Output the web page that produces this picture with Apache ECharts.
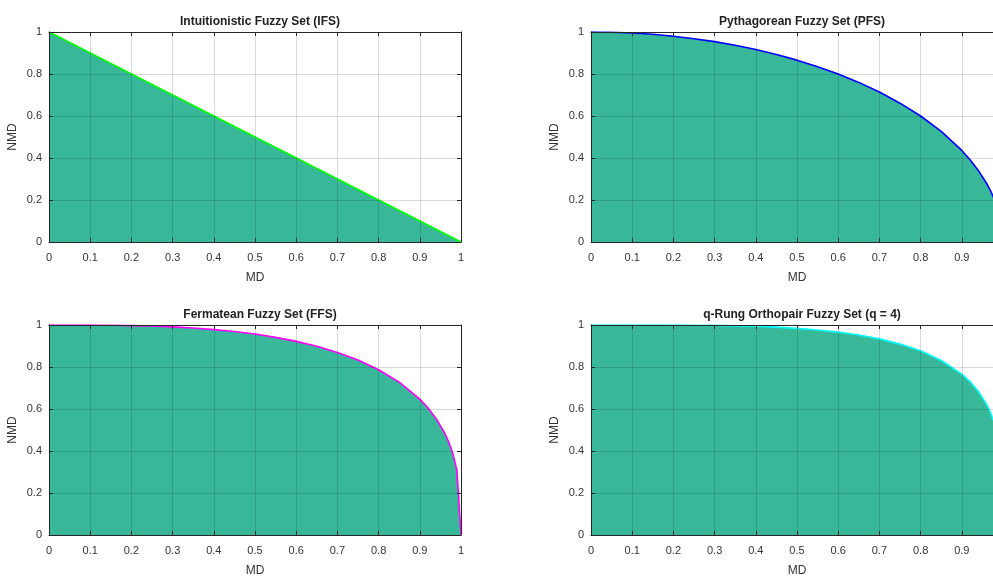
<!DOCTYPE html>
<html>
<head>
<meta charset="utf-8">
<script src="https://cdn.jsdelivr.net/npm/echarts@6/dist/echarts.min.js"></script>
<style>
  html, body { margin: 0; padding: 0; background: #fff; }
  #main { width: 993px; height: 576px; }
</style>
</head>
<body>
<div id="main"></div>
<script>
// membership degree samples (x) and the non-membership boundary
var md = [0, 0.05, 0.1, 0.15, 0.2, 0.25, 0.3, 0.35, 0.4, 0.45, 0.5, 0.55, 0.6, 0.65, 0.7, 0.75, 0.8, 0.85, 0.9, 0.92, 0.94, 0.96, 0.97, 0.98, 0.99, 1];
var ifsMd = [0, 1];
var ifsNmd = [1, 0];
var pfsNmd = [1, 0.999, 0.995, 0.989, 0.980, 0.968, 0.954, 0.937, 0.917, 0.893, 0.866, 0.835, 0.800, 0.760, 0.714, 0.661, 0.600, 0.527, 0.436, 0.392, 0.341, 0.280, 0.243, 0.199, 0.141, 0];
var ffsNmd = [1, 1, 0.9997, 0.9989, 0.997, 0.995, 0.991, 0.986, 0.978, 0.969, 0.957, 0.941, 0.922, 0.899, 0.869, 0.833, 0.787, 0.728, 0.647, 0.605, 0.553, 0.487, 0.444, 0.389, 0.310, 0];
var q4Nmd = [1, 1, 1, 0.9999, 0.9996, 0.999, 0.998, 0.996, 0.994, 0.990, 0.984, 0.976, 0.966, 0.952, 0.934, 0.909, 0.877, 0.831, 0.766, 0.730, 0.684, 0.623, 0.582, 0.528, 0.446, 0];

var titles = ['Intuitionistic Fuzzy Set (IFS)', 'Pythagorean Fuzzy Set (PFS)', 'Fermatean Fuzzy Set (FFS)', 'q-Rung Orthopair Fuzzy Set (q = 4)'];
var lineColors = ['#00ff00', '#0000ff', '#ff00ff', '#00ffff'];
var fillColor = '#38b899';
var font = 'Liberation Sans, Arial, sans-serif';

// right column runs past the page edge, as in the source image
var grids = [
    { left: 49, top: 32, width: 412, height: 210, outerBoundsMode: 'none' },
    { left: 591, top: 32, width: 412, height: 210, outerBoundsMode: 'none' },
    { left: 49, top: 325, width: 412, height: 210, outerBoundsMode: 'none' },
    { left: 591, top: 325, width: 412, height: 210, outerBoundsMode: 'none' }
];

function pairs(xs, ys) {
    var out = [];
    for (var i = 0; i < xs.length; i++) {
        out.push([xs[i], ys[i]]);
    }
    return out;
}

var seriesData = [
    pairs(ifsMd, ifsNmd),
    pairs(md, pfsNmd),
    pairs(md, ffsNmd),
    pairs(md, q4Nmd)
];

var axisColor = '#262626';
var gridLine = 'rgba(0,0,0,0.14)';

function tickFmt(v) {
    return String(Math.round(v * 10) / 10);
}

var xAxes = [], yAxes = [], titleList = [], series = [];
for (var i = 0; i < 4; i++) {
    // main bottom / left axes
    xAxes.push({
        type: 'value', gridIndex: i, min: 0, max: 1, interval: 0.1, position: 'bottom', z: 5,
        name: 'MD', nameLocation: 'middle', nameGap: 30,
        nameTextStyle: { fontFamily: font, fontSize: 12, color: '#333' },
        axisLine: { show: true, lineStyle: { color: axisColor, width: 1 } },
        axisTick: { show: true, inside: true, length: 4, lineStyle: { color: axisColor } },
        axisLabel: { fontFamily: font, fontSize: 11, color: '#333', margin: 10, formatter: tickFmt },
        splitLine: { show: true, lineStyle: { color: gridLine, width: 1 } }
    });
    yAxes.push({
        type: 'value', gridIndex: i, min: 0, max: 1, interval: 0.2, position: 'left', z: 5,
        name: 'NMD', nameLocation: 'middle', nameGap: 30,
        nameTextStyle: { fontFamily: font, fontSize: 12, color: '#333' },
        axisLine: { show: true, lineStyle: { color: axisColor, width: 1 } },
        axisTick: { show: true, inside: true, length: 4, lineStyle: { color: axisColor } },
        axisLabel: { fontFamily: font, fontSize: 11, color: '#333', margin: 7, formatter: tickFmt },
        splitLine: { show: true, lineStyle: { color: gridLine, width: 1 } }
    });
    // box: top / right axes with inward ticks only
    xAxes.push({
        type: 'value', gridIndex: i, min: 0, max: 1, interval: 0.1, position: 'top', z: 5,
        axisLine: { show: true, onZero: false, lineStyle: { color: axisColor, width: 1 } },
        axisTick: { show: true, inside: true, length: 4, lineStyle: { color: axisColor } },
        axisLabel: { show: false },
        splitLine: { show: false }
    });
    yAxes.push({
        type: 'value', gridIndex: i, min: 0, max: 1, interval: 0.2, position: 'right', z: 5,
        axisLine: { show: true, onZero: false, lineStyle: { color: axisColor, width: 1 } },
        axisTick: { show: true, inside: true, length: 4, lineStyle: { color: axisColor } },
        axisLabel: { show: false },
        splitLine: { show: false }
    });

    titleList.push({
        text: titles[i],
        left: grids[i].left + grids[i].width / 2,
        top: grids[i].top - 21,
        textAlign: 'center',
        textStyle: { fontFamily: font, fontSize: 12, fontWeight: 'bold', color: '#222' }
    });

    series.push({
        type: 'line',
        xAxisIndex: i * 2,
        yAxisIndex: i * 2,
        data: seriesData[i],
        showSymbol: false,
        symbol: 'none',
        z: 2,
        lineStyle: { color: lineColors[i], width: 1.6 },
        areaStyle: { color: fillColor, opacity: 1 }
    });
}

var chart = echarts.init(document.getElementById('main'));
chart.setOption({
    animation: false,
    backgroundColor: '#fff',
    title: titleList,
    grid: grids,
    xAxis: xAxes,
    yAxis: yAxes,
    series: series
});
</script>
</body>
</html>
